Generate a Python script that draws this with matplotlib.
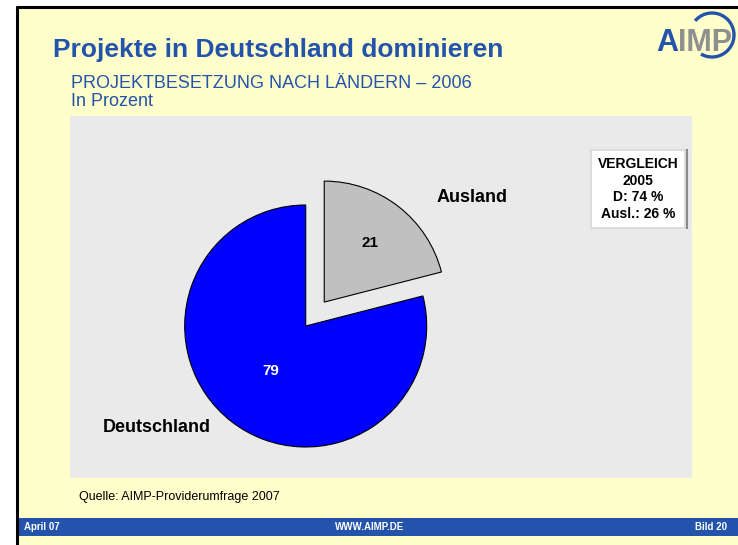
import numpy as np
import matplotlib.pyplot as plt
from matplotlib.patches import Rectangle, Arc

plt.rcParams['font.family'] = ['Liberation Sans', 'DejaVu Sans']

# data
categories = ["Ausland", "Deutschland"]
values = [21, 79]
colors = ["#C0C0C0", "#0000FF"]
explode = [0.25, 0.0]
value_colors = ["black", "white"]
value_dist = [0.62, 0.47]

title = "Projekte in Deutschland dominieren"
subtitle = "PROJEKTBESETZUNG NACH LÄNDERN – 2006"
unit = "In Prozent"
compare = "VERGLEICH\n2005\nD: 74 %\nAusl.: 26 %"
source = "Quelle: AIMP-Providerumfrage 2007"

W, H = 738, 545
YELLOW = "#FFFFCC"
BLUE = "#2353AA"

fig = plt.figure(figsize=(W / 100, H / 100), dpi=100)
fig.patch.set_facecolor("white")

# page background in pixel coordinates
bg = fig.add_axes([0, 0, 1, 1], zorder=0)
bg.set_xlim(0, W)
bg.set_ylim(H, 0)
bg.axis("off")
bg.add_patch(Rectangle((17, 7), W - 17, H - 7, facecolor=YELLOW, edgecolor="none"))
bg.plot([16, W], [7, 7], color="black", lw=2.2, solid_capstyle="butt")
bg.plot([17, 17], [6, H], color="black", lw=2.2, solid_capstyle="butt")

bg.text(53, 57, title, fontsize=19, fontweight="bold", color=BLUE, va="baseline")
bg.text(71, 88, subtitle, fontsize=13, color=BLUE, va="baseline")
bg.text(71, 106, unit, fontsize=13, color=BLUE, va="baseline")

# logo
bg.text(656, 51, "A", fontsize=22, fontweight="bold", color=BLUE, va="baseline")
bg.text(678, 51, "IMP", fontsize=22, fontweight="bold", color="#8F8F8F", va="baseline")
bg.add_patch(Arc((712, 35), 44, 44, theta1=-140, theta2=120, color=BLUE, lw=2.4))

bg.text(79, 497, source, fontsize=9, color="black", va="center")

# footer bar
bg.add_patch(Rectangle((18, 518), W - 18, 18, facecolor=BLUE, edgecolor="none"))
bg.text(24, 527, "April 07", fontsize=7, fontweight="bold", color="white", va="center")
bg.text(370, 527, "WWW.AIMP.DE", fontsize=7, fontweight="bold", color="white",
        va="center", ha="center")
bg.text(727, 527, "Bild 20", fontsize=7, fontweight="bold", color="white",
        va="center", ha="right")

# chart area
left, top, right, bottom = 70, 116, 692, 478
ax = fig.add_axes([left / W, (H - bottom) / H, (right - left) / W, (bottom - top) / H],
                  zorder=1)
r_px = 121
cx, cy = 305.7, 326
wedges, _ = ax.pie(values, colors=colors, explode=explode, startangle=90,
                   counterclock=False, radius=1,
                   wedgeprops=dict(edgecolor="black", linewidth=0.8))
ax.set_aspect("auto")
ax.set_xlim(-(cx - left) / r_px, (right - cx) / r_px)
ax.set_ylim(-(bottom - cy) / r_px, (cy - top) / r_px)
ax.set_frame_on(True)
ax.set_facecolor("#EAEAEA")
for s in ax.spines.values():
    s.set_visible(False)
ax.set_xticks([])
ax.set_yticks([])

for w, v, c, d in zip(wedges, values, value_colors, value_dist):
    mid = np.deg2rad((w.theta1 + w.theta2) / 2)
    x0, y0 = w.center
    ax.text(x0 + d * np.cos(mid), y0 + d * np.sin(mid), str(v), color=c,
            fontsize=11, fontweight="bold", ha="center", va="center")

ax.text((472 - cx) / r_px, (cy - 197) / r_px, categories[0], fontsize=13,
        fontweight="bold", ha="center", va="center")
ax.text((157 - cx) / r_px, (cy - 427) / r_px, categories[1], fontsize=13,
        fontweight="bold", ha="center", va="center")

# comparison box
ax.text((638 - cx) / r_px, (cy - 189) / r_px, compare, fontsize=10, fontweight="bold",
        ha="center", va="center", linespacing=1.25,
        bbox=dict(boxstyle="square,pad=0.5", facecolor="white", edgecolor="#D8D8D8",
                  linewidth=1.2))
ax.plot([(687 - cx) / r_px] * 2, [(cy - 150) / r_px, (cy - 228) / r_px],
        color="#8A8A8A", lw=1.5)

fig.savefig("out.png", dpi=100, facecolor=fig.get_facecolor())
